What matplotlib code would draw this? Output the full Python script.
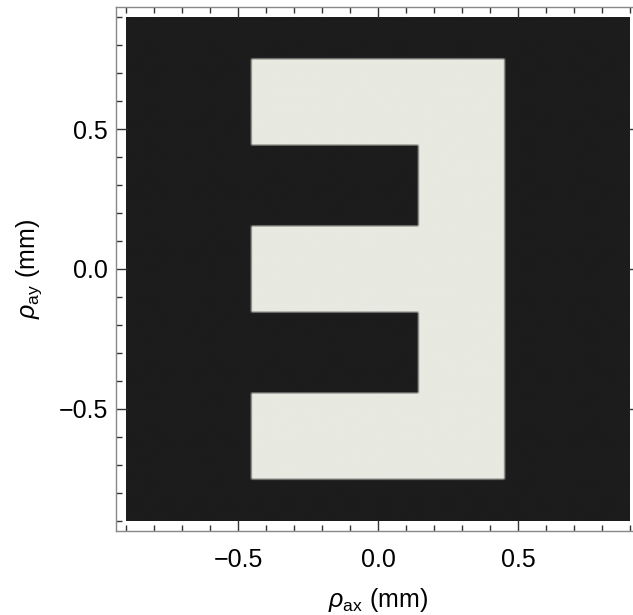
import numpy as np
import matplotlib
matplotlib.use("Agg")
import matplotlib.pyplot as plt
from matplotlib.colors import LinearSegmentedColormap

# reversed "E" aperture, built from rectangles (mm)
rect_x0 = [0.15, -0.45, -0.45, -0.45]
rect_x1 = [0.45, 0.45, 0.45, 0.45]
rect_y0 = [-0.75, 0.45, -0.15, -0.75]
rect_y1 = [0.75, 0.75, 0.15, -0.45]

plot_range = [-0.9, 0.9]
major_ticks = [-0.5, 0.0, 0.5]
tick_labels = ["\u22120.5", "0.0", "0.5"]
minor_ticks = np.round(np.arange(-0.9, 0.91, 0.1), 2)

plt.rcParams["font.family"] = ["Liberation Sans", "DejaVu Sans"]
plt.rcParams["mathtext.fontset"] = "custom"
plt.rcParams["mathtext.rm"] = "Liberation Sans"
plt.rcParams["mathtext.it"] = "Liberation Sans:italic"

n = 181
xs = np.linspace(plot_range[0], plot_range[1], n)
ys = np.linspace(plot_range[0], plot_range[1], n)
X, Y = np.meshgrid(xs, ys)
Z = np.zeros_like(X)
for x0, x1, y0, y1 in zip(rect_x0, rect_x1, rect_y0, rect_y1):
    Z[(X >= x0 - 1e-9) & (X <= x1 + 1e-9) & (Y >= y0 - 1e-9) & (Y <= y1 + 1e-9)] = 1.0

cmap = LinearSegmentedColormap.from_list("bw", ["#1c1c1c", "#e8e9e0"])

fig = plt.figure(figsize=(6.33, 6.15), dpi=100)
ax = fig.add_axes([116 / 633, (615 - 531) / 615, (640 - 116) / 633, (531 - 7) / 615])
ax.imshow(Z, origin="lower", extent=[plot_range[0], plot_range[1], plot_range[0], plot_range[1]],
          cmap=cmap, vmin=0, vmax=1, interpolation="bilinear", aspect="auto")

lim = 0.936
ax.set_xlim(-lim, lim)
ax.set_ylim(-lim, lim)
ax.set_xticks(major_ticks)
ax.set_xticklabels(tick_labels)
ax.set_yticks(major_ticks)
ax.set_yticklabels(tick_labels)
ax.set_xticks(minor_ticks, minor=True)
ax.set_yticks(minor_ticks, minor=True)
ax.tick_params(which="both", direction="in", top=True, right=True, color="#333333", width=1)
ax.tick_params(which="major", length=8, labelsize=18, pad=12)
ax.tick_params(which="minor", length=4)
ax.tick_params(axis="y", which="major", pad=6)
for s in ax.spines.values():
    s.set_color("#888888")
    s.set_linewidth(1)

ax.set_xlabel(r"$\rho_{\mathrm{ax}}$ (mm)", fontsize=18, labelpad=10)
ax.set_ylabel(r"$\rho_{\mathrm{ay}}$ (mm)", fontsize=18, labelpad=10)

fig.savefig("out.png", dpi=100)
